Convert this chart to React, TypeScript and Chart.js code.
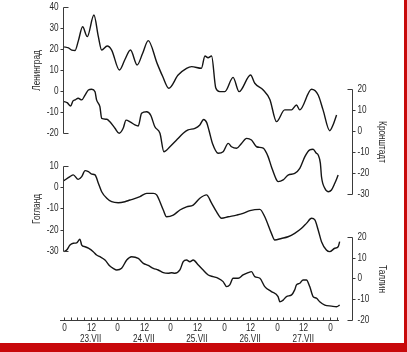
import { useEffect, useRef } from 'react';
import { Chart, registerables } from 'chart.js';

Chart.register(...registerables);

// ---- data: hours since 0h of 23.VII, values per station ----
const LEN_H = [0, 2, 3.5, 5, 6.5, 8.4, 10.5, 13.5, 15.5, 17, 19.5, 21.5, 25, 27.5, 30, 33, 35.5, 38, 42, 44.5, 47.3, 51.5, 55.3, 57.6, 62, 63.6, 65, 66.6, 68.5, 70.3, 72.6, 76.3, 79, 84.2, 86.1, 89.9, 92.9, 95.9, 99.6, 102.7, 104.9, 106.4, 111.7, 114.7, 116.9, 119.9, 121.4, 123];
const LEN_V = [21, 20.5, 19.5, 19.3, 24, 30.6, 25.9, 36.2, 25.9, 19.5, 21.4, 19.5, 10, 15, 19.5, 12.4, 18, 24, 13.2, 7, 1.3, 7.6, 10.8, 11.6, 10.8, 16.7, 15.8, 16.7, 1.4, -0.3, -0.3, 6.5, -0.3, 7.6, 3.7, 0.5, -4, -14.6, -9, -9, -6.7, -9, 0.8, -1.9, -9, -18.9, -16.2, -11.4];

const KRON_H = [0, 1.4, 3, 4, 5, 6.4, 8, 9.5, 11, 12.5, 14, 14.7, 16.2, 17, 19.3, 20.7, 23, 24.9, 26.7, 28, 29.8, 32, 33.5, 35, 37.3, 39.1, 41, 43.3, 45.1, 47.8, 50.8, 53.8, 56, 59.1, 61.3, 63, 64.4, 65.5, 67, 69.6, 71.8, 74.1, 75.6, 77.9, 80.1, 82.4, 84.6, 86.9, 89.9, 92.1, 93.6, 95.9, 96.6, 98.9, 101.1, 104.1, 106.4, 108.7, 110.9, 112.4, 113.9, 114.7, 115.7, 116.2, 117.7, 119.2, 120.7, 122.2, 123.7];
const KRON_V = [14, 13.5, 11.9, 14.2, 14.8, 15.6, 14.8, 17.1, 19.5, 19.9, 18.7, 14.8, 11.6, 6, 5.6, 4.4, 1.3, -1.1, 1.3, 5.2, 4.4, 2.9, 2.4, 8.4, 9.2, 7.6, 2.0, -1.1, -9.9, -7.5, -4.3, -1.1, 0.5, 1.3, 2.9, 5.5, 4, 0, -5.9, -10.6, -9.9, -5.9, -7.5, -8.2, -5.9, -3.5, -4.3, -7.5, -8.2, -12.2, -17, -23.3, -24.1, -23.3, -21, -20.2, -17.8, -12.2, -9, -8.7, -10.6, -11.4, -15.4, -21.8, -27.3, -28.9, -28.1, -24.9, -21];

const GOG_H = [0, 2.7, 4.2, 6.4, 8, 9.5, 11, 12.5, 14, 15.5, 17, 19.3, 21.5, 24.5, 27.5, 29.8, 31.2, 34.3, 37.3, 40.3, 41.8, 44.8, 46.3, 49.3, 52.3, 55.3, 58.3, 61.3, 64.3, 66.6, 68.8, 71.1, 74.1, 77.9, 80.8, 83.9, 88.4, 90.6, 93.6, 95.1, 98.1, 101.1, 104.1, 107.2, 109.4, 111.7, 113.2, 114.7, 116.2, 118.4, 119.9, 122.2, 123.7, 124.4];
const GOG_V = [3.1, 5, 5.8, 3.7, 5, 7.8, 7.3, 6.2, 5.8, 1.9, -2.1, -5.2, -6.8, -7.3, -6.8, -6, -5.6, -4.4, -2.9, -2.9, -3.6, -10.7, -13.9, -13.1, -10.7, -9.2, -8.4, -5.2, -3.6, -7.5, -11.5, -14.6, -13.9, -13.1, -12.3, -11, -10.4, -13.9, -21.7, -24.8, -24.1, -23.3, -21.7, -19.3, -17, -14.6, -15.4, -20.1, -25.6, -29.5, -30.3, -28.7, -28, -25.6];

const TAL_H = [0, 1.2, 2.7, 4.2, 5.7, 7.2, 8, 9.5, 11, 13.2, 14.7, 16.2, 18.5, 20.7, 22.2, 23.8, 26, 28.3, 30.5, 33.5, 35.8, 38, 40.3, 42.5, 44.8, 47, 48.6, 50, 52.3, 53.8, 55.3, 56.8, 58.3, 60.6, 62.8, 65.1, 67.3, 69.6, 71.8, 73.4, 74.8, 76.3, 78.6, 80.8, 83.1, 84.6, 86.1, 88.4, 90.6, 93.6, 96.6, 97.4, 98.9, 100.4, 102.7, 104.1, 104.9, 106.4, 107.9, 109.4, 110.9, 112.4, 113.9, 115.4, 117.7, 120.7, 123, 124.4];
const TAL_V = [13, 13.7, 16.1, 17, 17.2, 18.9, 16.1, 15.3, 14.6, 12.9, 11.3, 10.5, 8.9, 6, 4.9, 4.1, 4.9, 8.9, 10.5, 9.7, 7.3, 6.3, 4.9, 4.1, 2.8, 2.5, 2.8, 2.5, 4.1, 8.1, 8.9, 8.1, 8.9, 6.5, 4.1, 1.7, 0.9, 0.1, -1.5, -3.9, -3.1, 0.1, 0.1, 1.7, 2.8, 3.3, 0.9, 0.1, -3.9, -6.3, -8.7, -11.2, -10.4, -8.7, -7.9, -5.5, -3.1, -2.3, -0.7, -0.7, -3.9, -8.7, -9.5, -11.2, -12.8, -13.3, -13.6, -12.8];

// ---- axis ticks and labels ----
const LEN_TICKS = [40, 30, 20, 10, 0, -10, -20];
const KRON_TICKS = [20, 10, 0, -10, -20, -30];
const GOG_TICKS = [10, 0, -10, -20, -30];
const TAL_TICKS = [20, 10, 0, -10, -20];
const STATION_NAMES = ['Ленинград', 'Кронштадт', 'Гогланд', 'Таллин'];
const DAY_LABELS = ['23.VII', '24.VII', '25.VII', '26.VII', '27.VII'];
const HOUR_TICK_STEP = 3;
const HOUR_LABEL_STEP = 12;
const LAST_TICK_HOUR = 123;

const FONT = "10px 'Liberation Sans', Arial, sans-serif";
const NARROW = 0.82;
const LINE_COLOR = '#151515';
const AXIS_COLOR = '#3a3a3a';
const TEXT_COLOR = '#2a2a2a';

const AXES = [
  { id: 'yLen', side: 'left', title: STATION_NAMES[0], ticks: LEN_TICKS },
  { id: 'yKron', side: 'right', title: STATION_NAMES[1], ticks: KRON_TICKS },
  { id: 'yGog', side: 'left', title: STATION_NAMES[2], ticks: GOG_TICKS },
  { id: 'yTal', side: 'right', title: STATION_NAMES[3], ticks: TAL_TICKS },
];

// draws condensed text (horizontally compressed) at x,y
function narrowText(ctx: CanvasRenderingContext2D, text: string, x: number, y: number, align: CanvasTextAlign) {
  ctx.save();
  ctx.translate(x, y);
  ctx.scale(NARROW, 1);
  ctx.textAlign = align;
  ctx.textBaseline = 'middle';
  ctx.fillText(text, 0, 0);
  ctx.restore();
}

const axesPlugin = {
  id: 'customAxes',
  afterDraw(chart: any) {
    const ctx: CanvasRenderingContext2D = chart.ctx;
    const area = chart.chartArea;
    const xs = chart.scales.x;
    ctx.save();
    ctx.strokeStyle = AXIS_COLOR;
    ctx.fillStyle = TEXT_COLOR;
    ctx.lineWidth = 1;
    ctx.font = FONT;

    for (const ax of AXES) {
      const s = chart.scales[ax.id];
      const left = ax.side === 'left';
      const x = (left ? Math.round(area.left) - 1 : Math.round(area.right) + 11) + 0.5;
      const dirIn = left ? 1 : -1;
      const yTop = Math.round(s.getPixelForValue(ax.ticks[0])) + 0.5;
      const yBot = Math.round(s.getPixelForValue(ax.ticks[ax.ticks.length - 1])) + 0.5;
      ctx.beginPath();
      ctx.moveTo(x + dirIn * 5, yTop);
      ctx.lineTo(x, yTop);
      ctx.lineTo(x, yBot);
      ctx.lineTo(x + dirIn * 5, yBot);
      ctx.stroke();
      ax.ticks.forEach((t: number, i: number) => {
        const y = Math.round(s.getPixelForValue(t)) + 0.5;
        if (i > 0 && i < ax.ticks.length - 1) {
          ctx.beginPath();
          ctx.moveTo(x, y);
          ctx.lineTo(x - dirIn * 3, y);
          ctx.stroke();
        }
        narrowText(ctx, String(t), x - dirIn * 5, y, left ? 'right' : 'left');
      });
      const cy = (yTop + yBot) / 2;
      ctx.save();
      ctx.translate(left ? x - 26 : x + 29, cy);
      ctx.rotate(left ? -Math.PI / 2 : Math.PI / 2);
      narrowText(ctx, ax.title, 0, 0, 'center');
      ctx.restore();
    }

    // x axis
    const yb = Math.round(area.bottom) + 0.5;
    ctx.beginPath();
    ctx.moveTo(Math.round(area.left) - 4, yb);
    ctx.lineTo(Math.round(xs.getPixelForValue(LAST_TICK_HOUR + 1)), yb);
    ctx.stroke();
    for (let h = 0; h <= LAST_TICK_HOUR; h += HOUR_TICK_STEP) {
      const px = Math.round(xs.getPixelForValue(h)) + 0.5;
      ctx.beginPath();
      ctx.moveTo(px, yb);
      ctx.lineTo(px, yb - 3);
      ctx.stroke();
      if (h % HOUR_LABEL_STEP === 0) {
        narrowText(ctx, h % 24 === 0 ? '0' : '12', px, yb + 7.5, 'center');
      }
    }
    DAY_LABELS.forEach((d, i) => {
      const px = xs.getPixelForValue(i * 24 + 12);
      narrowText(ctx, d, px, yb + 18.5, 'center');
    });
    ctx.restore();
  },
};

function series(hs: number[], vs: number[]) {
  return hs.map((h, i) => ({ x: h, y: vs[i] }));
}

export default function App() {
  const ref = useRef<HTMLCanvasElement | null>(null);
  useEffect(() => {
    if (!ref.current) return;
    const common = {
      borderColor: LINE_COLOR,
      borderWidth: 1.4,
      pointRadius: 0,
      fill: false,
      cubicInterpolationMode: 'monotone' as const,
      borderJoinStyle: 'round' as const,
    };
    const chart = new Chart(ref.current, {
      type: 'line',
      data: {
        datasets: [
          { ...common, label: STATION_NAMES[0], data: series(LEN_H, LEN_V), yAxisID: 'yLen' },
          { ...common, label: STATION_NAMES[1], data: series(KRON_H, KRON_V), yAxisID: 'yKron' },
          { ...common, label: STATION_NAMES[2], data: series(GOG_H, GOG_V), yAxisID: 'yGog' },
          { ...common, label: STATION_NAMES[3], data: series(TAL_H, TAL_V), yAxisID: 'yTal' },
        ],
      },
      options: {
        animation: false,
        responsive: false,
        devicePixelRatio: 1,
        layout: { padding: { left: 64, right: 63, top: 7, bottom: 23 } },
        plugins: { legend: { display: false }, tooltip: { enabled: false } },
        scales: {
          x: { type: 'linear', min: 0, max: 125, display: false },
          yLen: { type: 'linear', min: -109.05, max: 40, display: false },
          yKron: { type: 'linear', min: -90, max: 59.05, display: false },
          yGog: { type: 'linear', min: -62.47, max: 84.82, display: false },
          yTal: { type: 'linear', min: -20, max: 130.84, display: false },
        },
      },
      plugins: [axesPlugin],
    });
    return () => chart.destroy();
  }, []);

  return (
    <div style={{ position: 'fixed', left: 0, top: 0, width: 407, height: 352, background: '#c8090b' }}>
      <div style={{ width: 404, height: 343, background: '#ffffff' }}>
        <canvas ref={ref} width={404} height={343} style={{ display: 'block' }} />
      </div>
    </div>
  );
}
